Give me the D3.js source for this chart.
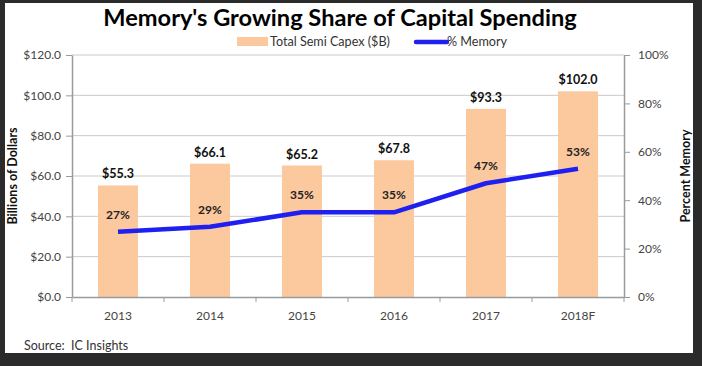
<!DOCTYPE html>
<html><head><meta charset="utf-8">
<script src="https://cdn.jsdelivr.net/npm/d3@7"></script>
<style>
html,body{margin:0;padding:0;background:#2b2b2b;}
svg{display:block;}
text{font-family:Lato,"Open Sans",sans-serif;}
</style></head>
<body>
<svg id="chart" width="702" height="366"></svg>
<script>
const categories = ["2013","2014","2015","2016","2017","2018F"];
const capex = [55.3, 66.1, 65.2, 67.8, 93.3, 102.0];
const memoryPct = [27, 29, 35, 35, 47, 53];
const leftTicks = [0,20,40,60,80,100,120];
const rightTicks = [0,20,40,60,80,100];

const svg = d3.select("#chart");
svg.append("rect").attr("x",5).attr("y",3).attr("width",688).attr("height",350).attr("fill","#fff");

const m = {l:72, r:624, t:55, b:297};
const x = d3.scaleBand().domain(categories).range([m.l,m.r]);
const yL = d3.scaleLinear().domain([0,120]).range([m.b,m.t]);
const yR = d3.scaleLinear().domain([0,100]).range([m.b,m.t]);

// gridlines
svg.append("g").selectAll("line").data(leftTicks.filter(d=>d>0)).join("line")
  .attr("x1",m.l).attr("x2",m.r).attr("y1",d=>yL(d)).attr("y2",d=>yL(d))
  .attr("stroke","#c9c9c9").attr("stroke-width",1);

// bars
const bw = 40;
svg.append("g").selectAll("rect").data(capex).join("rect")
  .attr("x",(d,i)=>x(categories[i])+x.bandwidth()/2-bw/2)
  .attr("width",bw)
  .attr("y",d=>yL(d)).attr("height",d=>m.b-yL(d))
  .attr("fill","#fcc89d");

// axes
const axisColor = "#9a9a9a";
const gL = svg.append("g").attr("transform",`translate(${m.l},0)`)
  .call(d3.axisLeft(yL).tickValues(leftTicks).tickSize(6).tickSizeOuter(0).tickPadding(5).tickFormat(d=>"$"+d3.format(".1f")(d)));
const gR = svg.append("g").attr("transform",`translate(${m.r},0)`)
  .call(d3.axisRight(yR).tickValues(rightTicks).tickSize(6).tickSizeOuter(0).tickPadding(8).tickFormat(d=>d+"%"));
const gB = svg.append("g").attr("transform",`translate(0,${m.b})`)
  .call(d3.axisBottom(x).tickSize(0).tickSizeOuter(0).tickPadding(14));
[gL,gR,gB].forEach(g=>{
  g.select(".domain").attr("stroke",axisColor).attr("stroke-width",1.5);
  g.selectAll(".tick line").attr("stroke",axisColor);
  g.selectAll("text").attr("fill","#444").attr("font-size",12).attr("font-family","Lato,sans-serif");
});
// bottom ticks at band boundaries
const bounds = categories.map(c=>x(c)).concat([m.r]);
gB.append("g").selectAll("line").data(bounds).join("line")
  .attr("x1",d=>d).attr("x2",d=>d).attr("y1",0).attr("y2",5).attr("stroke",axisColor);

// line
const line = d3.line().x((d,i)=>x(categories[i])+x.bandwidth()/2).y(d=>yR(d));
svg.append("path").datum(memoryPct).attr("d",line)
  .attr("fill","none").attr("stroke","#1f1fef").attr("stroke-width",4.5).attr("stroke-linejoin","round");

// bar labels
svg.append("g").selectAll("text").data(capex).join("text")
  .attr("x",(d,i)=>x(categories[i])+x.bandwidth()/2)
  .attr("y",d=>yL(d)-7)
  .attr("text-anchor","middle").attr("font-size",12.5).attr("font-weight","bold").attr("fill","#111")
  .text(d=>"$"+d3.format(".1f")(d));
// percent labels
svg.append("g").selectAll("text").data(memoryPct).join("text")
  .attr("x",(d,i)=>x(categories[i])+x.bandwidth()/2)
  .attr("y",d=>yR(d)-13)
  .attr("text-anchor","middle").attr("font-size",12).attr("font-weight","bold").attr("fill","#222")
  .text(d=>d+"%");

// title
svg.append("text").attr("x",340).attr("y",26).attr("text-anchor","middle")
  .attr("font-size",23.6).attr("font-weight","bold").attr("fill","#000")
  .text("Memory's Growing Share of Capital Spending");

// legend
svg.append("rect").attr("x",237).attr("y",37).attr("width",31).attr("height",9).attr("fill","#fcc89d");
svg.append("text").attr("x",270).attr("y",46).attr("font-size",12.6).attr("fill","#333").text("Total Semi Capex ($B)");
svg.append("line").attr("x1",416).attr("x2",447).attr("y1",42).attr("y2",42).attr("stroke","#1f1fef").attr("stroke-width",4.5).attr("stroke-linecap","round");
svg.append("text").attr("x",447).attr("y",46).attr("font-size",12.6).attr("fill","#333").text("% Memory");

// axis titles
svg.append("text").attr("transform","translate(17,176) rotate(-90)").attr("text-anchor","middle")
  .attr("font-size",12.5).attr("font-weight","bold").attr("fill","#111").text("Billions of Dollars");
svg.append("text").attr("transform","translate(690,176) rotate(-90)").attr("text-anchor","middle")
  .attr("font-size",12.5).attr("font-weight","bold").attr("fill","#111").text("Percent Memory");

// source
svg.append("text").attr("x",24).attr("y",350).attr("font-size",12.5).attr("fill","#333").attr("xml:space","preserve").text("Source:  IC Insights");
</script>
</body></html>
